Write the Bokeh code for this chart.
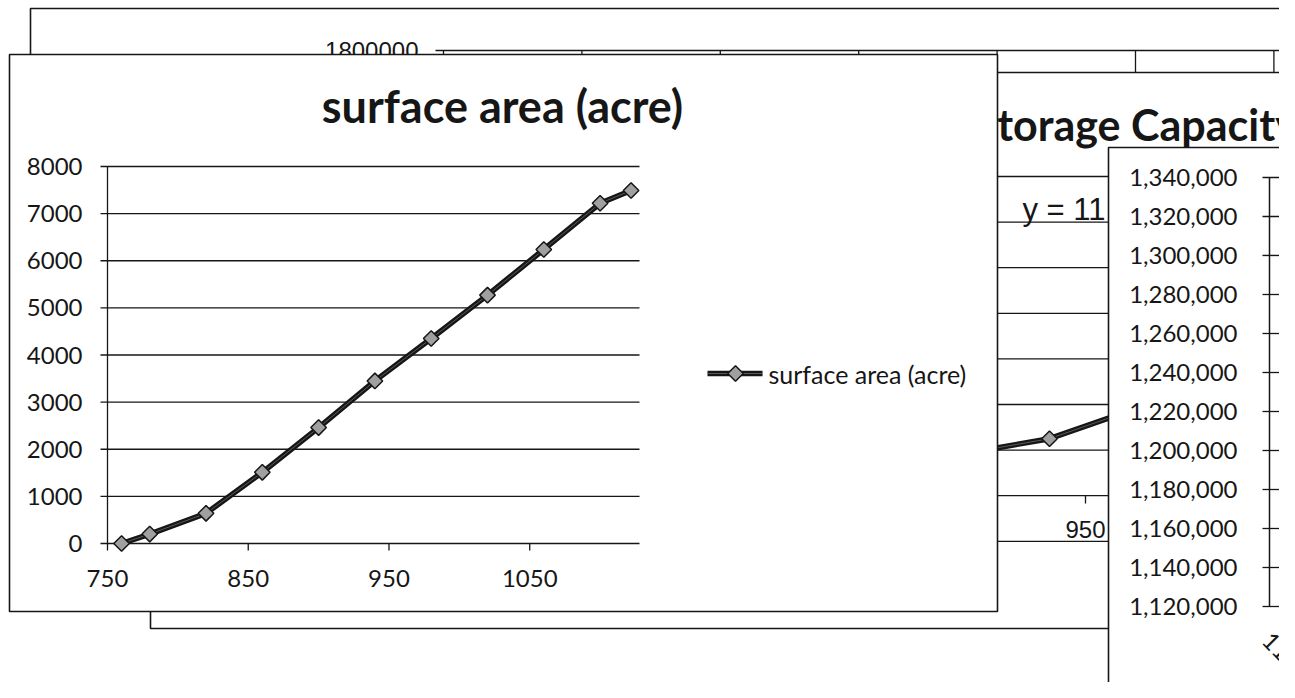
import math
from bokeh.plotting import figure
from bokeh.models import Range1d
from bokeh.core.properties import value
from bokeh.embed import file_html
from bokeh.resources import INLINE

# ---------------- data ----------------
# front chart: surface area vs elevation
elevation_ft = [760, 780, 820, 860, 900, 940, 980, 1020, 1060, 1100, 1122]
surface_area_acre = [0, 200, 640, 1510, 2460, 3450, 4350, 5270, 6240, 7220, 7490]
area_title = "surface area (acre)"
area_series = "surface area (acre)"
area_y_ticks = [0, 1000, 2000, 3000, 4000, 5000, 6000, 7000, 8000]
area_y_labels = ["0", "1000", "2000", "3000", "4000", "5000", "6000", "7000", "8000"]
area_x_ticks = [750, 850, 950, 1050]
area_x_labels = ["750", "850", "950", "1050"]

# middle chart (partly hidden): storage capacity
storage_title = "Storage Capacity (acre-ft)"
storage_elev = [900, 940, 980]
storage_acre_ft = [140000, 250000, 470000]
storage_grid = [-200000, 0, 200000, 400000, 600000, 800000, 1000000, 1200000, 1400000]
storage_x_ticks = [950]
storage_x_labels = ["950"]
storage_trend = "y = 11.63x² - 17427x + 6E+06"

# back chart (mostly hidden)
back_y_ticks = [1800000]
back_y_labels = ["1800000"]
back_x_grid = [800, 850, 900, 950, 1000, 1050, 1100]

# right chart (partly visible): capacity axis
capacity_ticks = [1340000, 1320000, 1300000, 1280000, 1260000, 1240000,
                  1220000, 1200000, 1180000, 1160000, 1140000, 1120000]
capacity_labels = ["1,340,000", "1,320,000", "1,300,000", "1,280,000", "1,260,000", "1,240,000",
                   "1,220,000", "1,200,000", "1,180,000", "1,160,000", "1,140,000", "1,120,000"]
capacity_x_labels = ["1100"]

# ---------------- page layout ----------------
W, H = 1279, 682
XL, XR = 0, W          # picture x of canvas left / right
YB, YT = H, 0          # picture y of canvas bottom / top

BLK = "#161616"
GREY_MK = "#a0a0a0"
CORE = "#5a5a5a"
CAL = value("Lato")
ARI = value("Liberation Sans")
TICK_FS = "24px"


def span_range(v0, q0, v1, q1, lo, hi):
    """Range whose value v0 sits at picture position q0 and v1 at q1."""
    k = (q1 - q0) / (v1 - v0)
    return Range1d(start=v0 + (lo - q0) / k, end=v0 + (hi - q0) / k)


p = figure(width=W, height=H, output_backend="svg", toolbar_location=None,
           x_range=Range1d(XL, XR), y_range=Range1d(YB, YT),
           x_axis_type=None, y_axis_type=None, min_border=0,
           outline_line_color=None, title=None,
           background_fill_color="white", border_fill_color="white")

p.extra_x_ranges = {
    "area_x": span_range(750, 107, 1128, 639, XL, XR),
    "stor_x": span_range(950, 1085, 1050, 1445, XL, XR),
    "back_x": span_range(800, 443, 850, 581.4, XL, XR),
}
p.extra_y_ranges = {
    "area_y": span_range(0, 543, 8000, 166, YB, YT),
    "stor_y": span_range(0, 495.2, 200000, 449.6, YB, YT),
    "back_y": span_range(1800000, 50, 1600000, 96, YB, YT),
    "cap_y": span_range(1340000, 177, 1120000, 606, YB, YT),
}

LW = 1.6

# ---------- back chart ----------
p.quad(left=30, right=1400, top=8, bottom=590, fill_color="white", line_color=BLK, line_width=LW)
p.segment(x0=back_x_grid, x1=back_x_grid, y0=50, y1=580, x_range_name="back_x",
          line_color=BLK, line_width=1.3)
p.segment(x0=435, x1=1400, y0=back_y_ticks, y1=back_y_ticks, y_range_name="back_y",
          line_color=BLK, line_width=LW)
p.text(x=418, y=back_y_ticks, text=back_y_labels, y_range_name="back_y",
       text_align="right", text_baseline="middle", text_font=ARI,
       text_font_size="24px", text_color=BLK)

# ---------- middle chart: storage capacity ----------
p.quad(left=150, right=1400, top=72, bottom=628, fill_color="white", line_color=BLK, line_width=LW)
p.text(x=974, y=124, text=[storage_title], text_align="left", text_baseline="middle",
       text_font=CAL, text_font_style="bold", text_font_size="43px", text_color=BLK)
p.segment(x0=200, x1=1400, y0=storage_grid, y1=storage_grid, y_range_name="stor_y",
          line_color=BLK, line_width=1.3)
p.segment(x0=storage_x_ticks, x1=storage_x_ticks, y0=495, y1=503, x_range_name="stor_x",
          line_color=BLK, line_width=1.3)
p.text(x=storage_x_ticks, y=529, text=storage_x_labels, x_range_name="stor_x",
       text_align="center", text_baseline="middle", text_font=ARI,
       text_font_size="24px", text_color=BLK)
p.text(x=1022, y=209, text=[storage_trend], text_align="left", text_baseline="middle",
       text_font=ARI, text_font_size="31px", text_color=BLK)
p.line(storage_elev, storage_acre_ft, x_range_name="stor_x", y_range_name="stor_y",
       line_color=BLK, line_width=5.5)
p.line(storage_elev, storage_acre_ft, x_range_name="stor_x", y_range_name="stor_y",
       line_color=CORE, line_width=1)
p.scatter(storage_elev, storage_acre_ft, x_range_name="stor_x", y_range_name="stor_y",
          marker="square", angle=math.pi / 4, size=11, fill_color=GREY_MK,
          line_color=BLK, line_width=1.5)

# ---------- front chart: surface area ----------
p.quad(left=9, right=997, top=54, bottom=611, fill_color="white", line_color=BLK, line_width=LW)
p.text(x=502, y=105, text=[area_title], text_align="center", text_baseline="middle",
       text_font=CAL, text_font_style="bold", text_font_size="45px", text_color=BLK)
p.segment(x0=100, x1=639, y0=area_y_ticks, y1=area_y_ticks, y_range_name="area_y",
          line_color=BLK, line_width=1.3)
p.segment(x0=[750], x1=[750], y0=[0], y1=[8000], x_range_name="area_x", y_range_name="area_y",
          line_color=BLK, line_width=1.3)
p.segment(x0=area_x_ticks, x1=area_x_ticks, y0=543, y1=550, x_range_name="area_x",
          line_color=BLK, line_width=1.3)
p.text(x=82, y=area_y_ticks, text=area_y_labels, y_range_name="area_y",
       text_align="right", text_baseline="middle", text_font=CAL,
       text_font_size=TICK_FS, text_color=BLK)
p.text(x=area_x_ticks, y=578, text=area_x_labels, x_range_name="area_x",
       text_align="center", text_baseline="middle", text_font=CAL,
       text_font_size=TICK_FS, text_color=BLK)
p.line(elevation_ft, surface_area_acre, x_range_name="area_x", y_range_name="area_y",
       line_color=BLK, line_width=5.5)
p.line(elevation_ft, surface_area_acre, x_range_name="area_x", y_range_name="area_y",
       line_color=CORE, line_width=1)
p.scatter(elevation_ft, surface_area_acre, x_range_name="area_x", y_range_name="area_y",
          marker="square", angle=math.pi / 4, size=11, fill_color=GREY_MK,
          line_color=BLK, line_width=1.5)
# legend
p.segment(x0=707, x1=762, y0=373, y1=373, line_color=BLK, line_width=5.5)
p.segment(x0=707, x1=762, y0=373, y1=373, line_color=CORE, line_width=1)
p.scatter(x=[735], y=[373], marker="square", angle=math.pi / 4, size=11,
          fill_color=GREY_MK, line_color=BLK, line_width=1.5)
p.text(x=768, y=373, text=[area_series], text_align="left", text_baseline="middle",
       text_font=CAL, text_font_size="25px", text_color=BLK)

# ---------- right chart: capacity ----------
p.quad(left=1108, right=1400, top=147, bottom=700, fill_color="white", line_color=BLK, line_width=LW)
p.segment(x0=1269, x1=1269, y0=[capacity_ticks[0]], y1=[capacity_ticks[-1]], y_range_name="cap_y",
          line_color=BLK, line_width=1.5)
p.segment(x0=1262, x1=1290, y0=capacity_ticks, y1=capacity_ticks, y_range_name="cap_y",
          line_color=BLK, line_width=1.3)
p.text(x=1237, y=capacity_ticks, text=capacity_labels, y_range_name="cap_y",
       text_align="right", text_baseline="middle", text_font=CAL,
       text_font_size=TICK_FS, text_color=BLK)
p.text(x=1272, y=630, text=capacity_x_labels, angle=-math.pi / 4,
       text_align="left", text_baseline="top", text_font=CAL,
       text_font_size=TICK_FS, text_color=BLK)

open("out.html", "w").write(file_html(p, INLINE, "chart"))
